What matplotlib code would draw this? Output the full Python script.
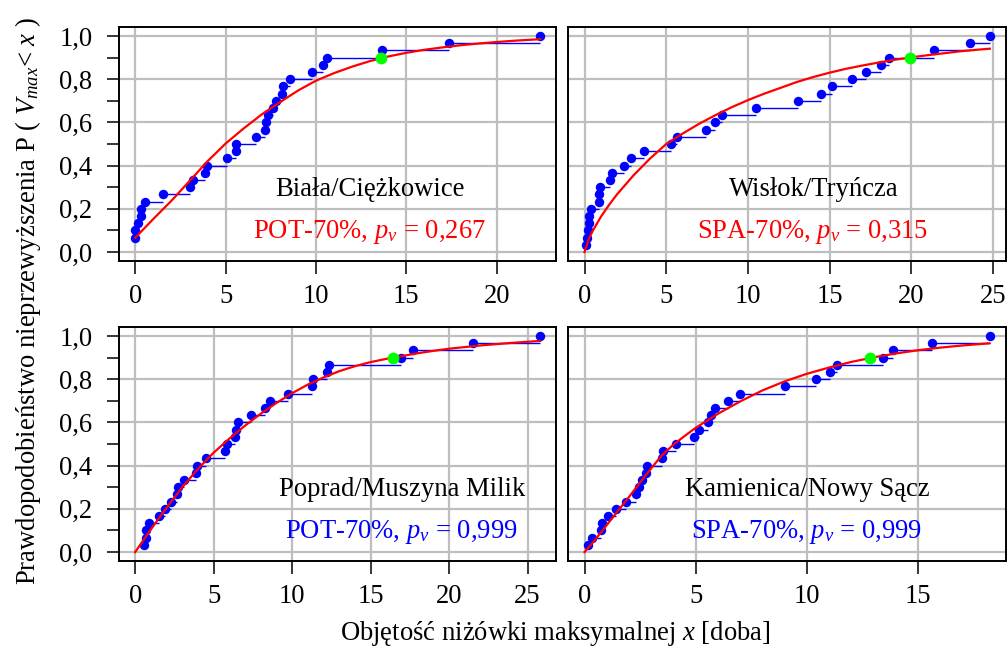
import matplotlib
matplotlib.use("Agg")
import matplotlib.pyplot as plt
from matplotlib.ticker import MultipleLocator

OUTPUT_PATH = "out.png"

# Empirical probabilities (plotting positions) shared by the 30-event series
ranks_30 = [0.033, 0.067, 0.100, 0.133, 0.167, 0.200, 0.233, 0.267, 0.300, 0.333,
            0.367, 0.400, 0.433, 0.467, 0.500, 0.533, 0.567, 0.600, 0.633, 0.667,
            0.700, 0.733, 0.767, 0.800, 0.833, 0.867, 0.900, 0.933, 0.967, 1.000]

# Biała / Ciężkowice
biala_x = [0.0, 0.0, 0.18, 0.3, 0.32, 0.52, 1.53, 3.05, 3.2, 3.85, 3.97, 5.1, 5.56,
           5.6, 6.7, 7.17, 7.26, 7.36, 7.63, 7.8, 8.1, 8.2, 8.56, 9.8, 10.37, 10.6,
           13.67, 17.36, 22.38]
biala_p = [0.067, 0.100, 0.133, 0.167, 0.200, 0.233, 0.267, 0.300, 0.333, 0.367,
           0.400, 0.433, 0.467, 0.500, 0.533, 0.567, 0.600, 0.633, 0.667, 0.700,
           0.733, 0.767, 0.800, 0.833, 0.867, 0.900, 0.933, 0.967, 1.000]
biala_fit_x = [0, 1, 2, 3, 4, 5, 6, 7, 8, 9, 10, 11, 12, 13, 14, 15, 16, 17, 18,
               19, 20, 21, 22.4]
biala_fit_p = [0.066, 0.153, 0.237, 0.328, 0.420, 0.502, 0.572, 0.637, 0.693, 0.747,
               0.793, 0.828, 0.858, 0.884, 0.905, 0.922, 0.936, 0.947, 0.957, 0.965,
               0.972, 0.978, 0.985]
biala_x90 = 13.58

# Wisłok / Tryńcza
wislok_x = [0.12, 0.16, 0.2, 0.26, 0.3, 0.38, 0.88, 0.9, 0.95, 1.55, 1.66, 2.41,
            2.82, 3.64, 5.28, 5.69, 7.42, 7.98, 8.4, 10.49, 13.05, 14.48, 15.13,
            16.36, 17.24, 18.14, 18.61, 21.37, 23.58, 24.8]
wislok_fit_x = [0, 0.25, 0.5, 1, 1.5, 2, 3, 4, 5, 6, 7, 8, 9, 10, 11, 12, 13, 14,
                15, 16, 17, 18, 19, 20, 21, 22, 23, 24, 24.8]
wislok_fit_p = [0.0, 0.058, 0.098, 0.163, 0.218, 0.268, 0.355, 0.432, 0.500, 0.548,
                0.593, 0.633, 0.670, 0.703, 0.733, 0.760, 0.787, 0.810, 0.830, 0.848,
                0.863, 0.877, 0.890, 0.901, 0.911, 0.920, 0.929, 0.936, 0.941]
wislok_x90 = 19.9

# Poprad / Muszyna Milik
poprad_x = [0.53, 0.66, 0.7, 0.87, 1.51, 1.93, 2.29, 2.65, 2.72, 3.1, 3.89, 3.93,
            4.52, 5.75, 5.84, 6.39, 6.43, 6.54, 7.35, 8.28, 8.56, 9.72, 11.27,
            11.36, 12.2, 12.33, 16.92, 17.7, 21.53, 25.78]
poprad_fit_x = [0, 1, 2, 3, 4, 5, 6, 7, 8, 9, 10, 11, 12, 13, 14, 15, 16, 17, 18,
                19, 20, 22, 24, 25.8]
poprad_fit_p = [0.0, 0.105, 0.205, 0.300, 0.385, 0.460, 0.525, 0.585, 0.640, 0.690,
                0.735, 0.775, 0.808, 0.837, 0.860, 0.879, 0.894, 0.907, 0.920, 0.931,
                0.941, 0.956, 0.968, 0.977]
poprad_x90 = 16.4

# Kamienica / Nowy Sącz
kamienica_x = [0.15, 0.32, 0.75, 0.77, 1.05, 1.4, 1.88, 2.3, 2.45, 2.6, 2.78, 2.82,
               3.5, 3.53, 4.1, 4.92, 5.15, 5.57, 5.68, 5.86, 6.43, 7.0, 9.0, 10.39,
               11.02, 11.37, 13.4, 13.87, 15.63, 18.22]
kamienica_fit_x = [0, 0.5, 1, 1.5, 2, 2.5, 3, 3.5, 4, 4.5, 5, 6, 7, 8, 9, 10, 11,
                   12, 13, 14, 15, 16, 17, 18.2]
kamienica_fit_p = [0.0, 0.060, 0.125, 0.190, 0.255, 0.322, 0.388, 0.450, 0.497,
                   0.537, 0.575, 0.640, 0.697, 0.748, 0.790, 0.825, 0.854, 0.880,
                   0.901, 0.919, 0.934, 0.946, 0.956, 0.966]
kamienica_x90 = 12.85

y_ticks = [0.0, 0.2, 0.4, 0.6, 0.8, 1.0]
y_tick_labels = ["0,0", "0,2", "0,4", "0,6", "0,8", "1,0"]

GRID_COLOR = "#bebebe"
FONT_SIZE = 19.2


def draw_panel(ax, x, p, fit_x, fit_p, x90, station, method, method_color,
               text_x, show_y=True):
    """
    Empirical CDF (dots + steps), fitted CDF (red line) and the
    90% quantile marked with a green dot.
    """
    # step segments from each point to the next one
    ax.hlines(p[:-1], x[:-1], x[1:], color="blue", lw=1.0, zorder=3)
    ax.plot(x, p, "o", color="blue", ms=6.8, mec="none", zorder=4)
    ax.plot(fit_x, fit_p, color="red", lw=1.6, zorder=5)
    ax.plot([x90], [0.9], "o", color="#00ff00", ms=8.5, mec="none", zorder=6)

    # R-like 4% axis expansion
    span = max(x) - min(0.0, min(x))
    ax.set_xlim(-0.04 * span, max(x) + 0.04 * span)
    ax.set_ylim(-0.04, 1.04)

    ax.xaxis.set_major_locator(MultipleLocator(5))
    ax.grid(True, color=GRID_COLOR, lw=1.6, zorder=0)
    ax.set_axisbelow(True)

    ax.tick_params(axis="both", which="both", direction="out", length=9,
                   width=1.1, labelsize=FONT_SIZE)
    ax.tick_params(axis="x", pad=8)
    ax.set_yticks(y_ticks)
    if show_y:
        ax.set_yticklabels(y_tick_labels)
        ax.yaxis.set_minor_locator(MultipleLocator(0.1))
        ax.tick_params(axis="y", pad=10)
    else:
        ax.tick_params(axis="y", which="both", left=False, labelleft=False)

    for sp in ax.spines.values():
        sp.set_linewidth(1.4)

    ax.text(text_x[0], 0.278, station, transform=ax.transAxes, ha="center",
            va="baseline", fontsize=FONT_SIZE, color="black")
    ax.text(text_x[1], 0.096, method, transform=ax.transAxes, ha="center",
            va="baseline", fontsize=FONT_SIZE, color=method_color)


def main():
    plt.rcParams["font.family"] = "Liberation Serif"
    plt.rcParams["mathtext.fontset"] = "custom"
    plt.rcParams["mathtext.rm"] = "Liberation Serif"
    plt.rcParams["mathtext.it"] = "Liberation Serif:italic"
    plt.rcParams["mathtext.bf"] = "Liberation Serif:bold"

    fig = plt.figure(figsize=(10.08, 6.48), dpi=100)
    W, H = 1008.0, 648.0

    def axes_at(left, top, right, bottom):
        return fig.add_axes([left / W, 1 - bottom / H, (right - left) / W,
                             (bottom - top) / H])

    ax1 = axes_at(119, 27.3, 556, 260.7)
    ax2 = axes_at(568.3, 27.3, 1006, 260.7)
    ax3 = axes_at(119, 327.3, 556, 560.7)
    ax4 = axes_at(568.3, 327.3, 1006, 560.7)

    draw_panel(ax1, biala_x, biala_p, biala_fit_x, biala_fit_p, biala_x90,
               "Biała/Ciężkowice", r"POT-70%, $p_v$ = 0,267", "red",
               (0.575, 0.574))
    draw_panel(ax2, wislok_x, ranks_30, wislok_fit_x, wislok_fit_p, wislok_x90,
               "Wisłok/Tryńcza", r"SPA-70%, $p_v$ = 0,315", "red",
               (0.561, 0.559), show_y=False)
    draw_panel(ax3, poprad_x, ranks_30, poprad_fit_x, poprad_fit_p, poprad_x90,
               "Poprad/Muszyna Milik", r"POT-70%, $p_v$ = 0,999", "blue",
               (0.647, 0.645))
    draw_panel(ax4, kamienica_x, ranks_30, kamienica_fit_x, kamienica_fit_p,
               kamienica_x90, "Kamienica/Nowy Sącz", r"SPA-70%, $p_v$ = 0,999",
               "blue", (0.546, 0.545), show_y=False)

    fig.text(28 / W, 1 - 301 / H,
             r"Prawdopodobieństwo nieprzewyższenia P ( $V_{max}$< $x$ )",
             rotation=90, ha="center", va="center", fontsize=FONT_SIZE)
    fig.text(555 / W, 1 - 640 / H,
             r"Objętość niżówki maksymalnej $x$ [doba]",
             ha="center", va="baseline", fontsize=FONT_SIZE)

    fig.savefig(OUTPUT_PATH, dpi=100)
    plt.close(fig)


if __name__ == "__main__":
    main()
